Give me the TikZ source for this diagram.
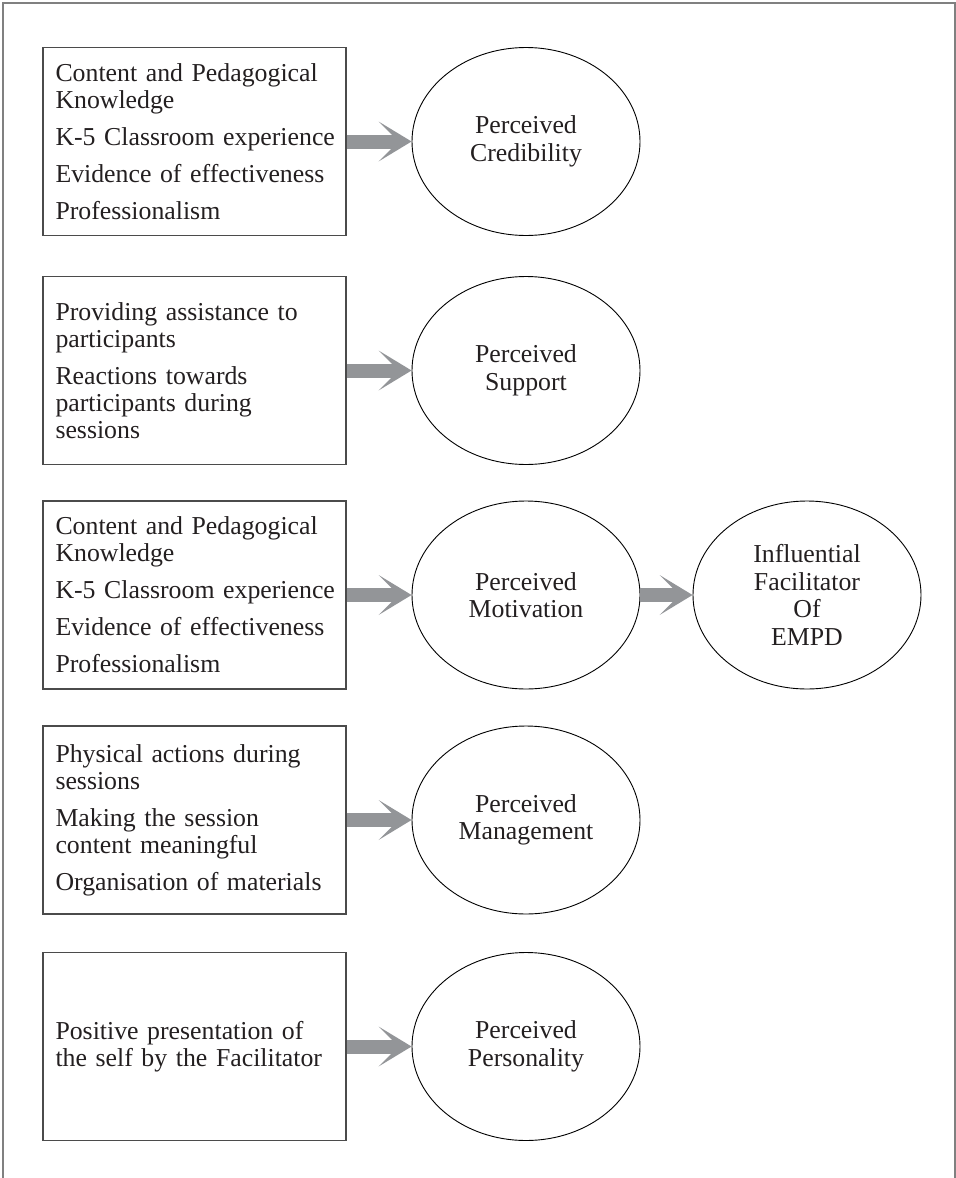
\documentclass[tikz,border=0pt]{standalone}
\usepackage{fontspec}
\setmainfont{Liberation Serif}
\usetikzlibrary{shapes.geometric,arrows.meta}

\definecolor{arrowgray}{RGB}{147,149,152}
\definecolor{framegray}{RGB}{128,128,128}
\definecolor{boxgray}{RGB}{75,75,75}
\definecolor{inkc}{RGB}{35,31,32}

\def\boxfont{\fontsize{12.9}{13.5}\selectfont\hyphenpenalty=10000\hbadness=10000\hfuzz=20pt\relax}

\begin{document}
\begin{tikzpicture}[x=0.5pt, y=-0.5pt]

  \tikzstyle{box}  = [draw=boxgray, line width=0.7pt, minimum width=151.5pt, minimum height=94pt,
                      text width=139pt, inner xsep=6.25pt, align=left, text=inkc, font=\boxfont]
  \tikzstyle{oval} = [draw, ellipse, line width=0.45pt, minimum width=114pt, minimum height=94pt,
                      inner sep=0pt, align=center, text=inkc, font=\fontsize{12.9}{13.8}\selectfont]
  \tikzstyle{flow} = [arrowgray, line width=7pt,
                      -{Stealth[length=16.5pt, width=20pt, inset=10pt, line width=0pt]}]

  \useasboundingbox (0,0) rectangle (956,1178);

  % ---- FRAME ----
  \draw[framegray, line width=1pt] (3,1178) -- (3,3) -- (955,3) -- (955,1178);

  % ---- FACTOR BOXES (left column) ----
  \node[box] (credbox) at (194.5,141.5) {Content and Pedagogical\\ Knowledge\\[5pt]
    \mbox{K-5 Classroom experience}\\[5pt] Evidence of effectiveness\\[5pt] Professionalism};
  \node[box] (suppbox) at (194.5,370.5) {Providing assistance to\\ participants\\[5pt]
    Reactions towards\\ participants during\\ sessions};
  \node[box] (motbox)  at (194.5,595)   {Content and Pedagogical\\ Knowledge\\[5pt]
    \mbox{K-5 Classroom experience}\\[5pt] Evidence of effectiveness\\[5pt] Professionalism};
  \node[box] (mgtbox)  at (194.5,820)   {Physical actions during\\ sessions\\[5pt]
    Making the session\\ content meaningful\\[5pt] Organisation of materials};
  \node[box] (persbox) at (194.5,1046.5) {Positive presentation of\\ the self by the Facilitator};

  % ---- PERCEPTIONS (ellipses) ----
  \node[oval] (cred) at (526,141.5)  {Perceived\\ Credibility};
  \node[oval] (supp) at (526,370.5)  {Perceived\\ Support};
  \node[oval] (mot)  at (526,595)    {Perceived\\ Motivation};
  \node[oval] (mgt)  at (526,820)    {Perceived\\ Management};
  \node[oval] (pers) at (526,1046.5) {Perceived\\ Personality};

  % outcome
  \node[oval] (empd) at (807,595) {Influential\\ Facilitator\\ Of\\ EMPD};

  % ---- ARROWS ----
  \foreach \a/\b in {credbox/cred, suppbox/supp, motbox/mot, mgtbox/mgt, persbox/pers, mot/empd}{
    \draw[flow] (\a) -- (\b);
  }

\end{tikzpicture}
\end{document}
